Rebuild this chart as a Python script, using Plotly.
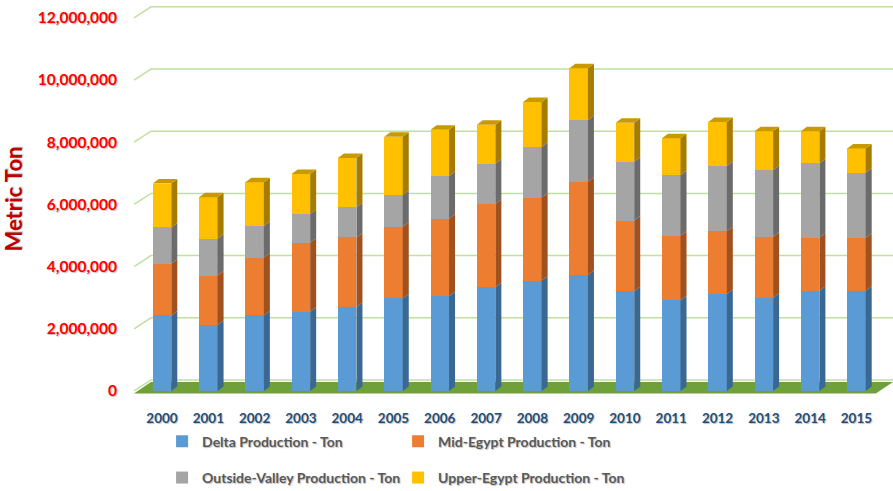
import plotly.graph_objects as go

years = ['2000', '2001', '2002', '2003', '2004', '2005', '2006', '2007',
         '2008', '2009', '2010', '2011', '2012', '2013', '2014', '2015']
delta = [2430000, 2120000, 2430000, 2550000, 2700000, 2980000, 3050000, 3340000,
         3550000, 3740000, 3210000, 2920000, 3120000, 3000000, 3220000, 3220000]
mid_egypt = [1660000, 1590000, 1860000, 2220000, 2240000, 2300000, 2490000, 2670000,
             2670000, 2990000, 2270000, 2070000, 2020000, 1960000, 1710000, 1710000]
outside_valley = [1170000, 1190000, 1020000, 920000, 970000, 1030000, 1370000, 1300000,
                  1630000, 1980000, 1890000, 1960000, 2090000, 2150000, 2390000, 2090000]
upper_egypt = [1410000, 1330000, 1400000, 1290000, 1580000, 1870000, 1490000, 1250000,
               1440000, 1670000, 1260000, 1180000, 1420000, 1240000, 1030000, 780000]
y_ticks = [0, 2000000, 4000000, 6000000, 8000000, 10000000, 12000000]

series = [
    ('Delta Production - Ton', delta, '#5b9bd5', '#3b6891', 'legend'),
    ('Mid-Egypt Production - Ton', mid_egypt, '#ed7d31', '#9f5220', 'legend'),
    ('Outside-Valley Production - Ton', outside_valley, '#a5a5a5', '#6b6b6b', 'legend2'),
    ('Upper-Egypt Production - Ton', upper_egypt, '#ffc000', '#a67c00', 'legend2'),
]

x_range = [-0.605, 15.79]
y_range = [-161000, 12510000]
bar_w = 0.4
dx, dy = 0.13, 145000          # bar depth
gdx, gdy = 0.367, 354000       # wall depth

x = list(range(len(years)))
fig = go.Figure()
shapes = []

# back wall gridlines
for v in y_ticks:
    shapes.append(dict(type='path', xref='x', yref='y', layer='below',
                       path=f'M{x_range[0]},{v} L{x_range[0]+gdx},{v+gdy} L{x_range[1]},{v+gdy}',
                       line=dict(color='#bfe09f', width=1.5)))
# floor
shapes.append(dict(type='path', xref='x', yref='y', layer='below',
                   path=f'M{x_range[0]},-80000 L15.42,-80000 L{x_range[1]},290000 L-0.24,290000 Z',
                   fillcolor='#70a03a', line=dict(width=0)))

base = [0] * len(years)
for name, vals, color, side, leg in series:
    fig.add_trace(go.Bar(x=x, y=vals, name=name, marker=dict(color=color, line=dict(width=0)),
                         width=bar_w, legend=leg))
    for i, v in enumerate(vals):
        x1 = i + bar_w / 2
        y0, y1 = base[i], base[i] + v
        shapes.append(dict(type='path', xref='x', yref='y',
                           path=f'M{x1},{y0} L{x1+dx},{y0+dy} L{x1+dx},{y1+dy} L{x1},{y1} Z',
                           fillcolor=side, line=dict(width=0)))
        base[i] = y1

# top faces
for i, top in enumerate(base):
    x0, x1 = i - bar_w / 2, i + bar_w / 2
    shapes.append(dict(type='path', xref='x', yref='y',
                       path=f'M{x0},{top} L{x0+dx},{top+dy} L{x1+dx},{top+dy} L{x1},{top} Z',
                       fillcolor='#c99a00', line=dict(width=0)))

shadow = '1px 1px 1px rgba(0,0,0,0.25)'
legend_font = dict(size=14, color='#595959', weight='bold', shadow=shadow)
fig.update_layout(
    barmode='stack',
    width=893, height=491,
    margin=dict(l=134, r=0, t=2, b=95, autoexpand=False),
    plot_bgcolor='white', paper_bgcolor='white',
    font=dict(family='Lato', color='#595959'),
    shapes=shapes,
    xaxis=dict(range=x_range, tickvals=x, ticktext=years, showgrid=False, zeroline=False,
               showline=False, ticks='', ticklabelstandoff=12, automargin=False,
               tickfont=dict(size=13.5, color='#1f4e79', weight='bold', shadow=shadow)),
    yaxis=dict(range=y_range, tickvals=y_ticks, tickformat=',', showgrid=False, zeroline=False,
               showline=False, ticks='', ticklabelstandoff=16, automargin=False,
               tickfont=dict(size=15.5, color='#ff0000', weight='bold', shadow=shadow),
               title=dict(text='Metric Ton', standoff=12,
                          font=dict(size=22, color='#c00000', weight='bold', shadow=shadow))),
    legend=dict(orientation='h', x=0.037, y=-0.116, xanchor='left', yanchor='middle',
                entrywidth=191, traceorder='normal', font=legend_font),
    legend2=dict(orientation='h', x=0.037, y=-0.208, xanchor='left', yanchor='middle',
                 entrywidth=191, traceorder='normal', font=legend_font),
)

fig.write_html('out.html', config={'displayModeBar': False},
               post_script="document.body.style.margin='0';")
